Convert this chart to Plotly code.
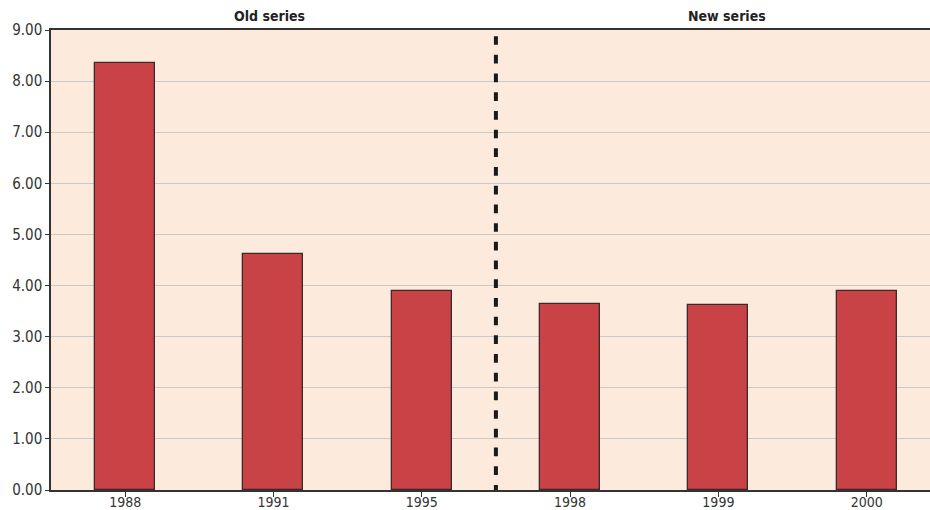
import plotly.graph_objects as go

years = ["1988", "1991", "1995", "1998", "1999", "2000"]
values = [8.35, 4.62, 3.90, 3.64, 3.62, 3.90]
y_ticks = [0, 1, 2, 3, 4, 5, 6, 7, 8, 9]
section_labels = ["Old series", "New series"]

FONT = "DejaVu Sans Condensed, Liberation Sans Narrow, Arial Narrow, sans-serif"

fig = go.Figure()
fig.add_trace(go.Bar(
    x=list(range(len(years))), y=values, width=0.405,
    marker=dict(color="#C94245", line=dict(color="#3b2a2a", width=1.3)),
))

fig.add_shape(type="line", xref="x", yref="y", x0=2.5, x1=2.5, y0=8.88, y1=0,
              line=dict(color="#1a1a1a", width=4, dash="8.7px,10px"))

fig.add_annotation(x=0.97, y=1.0, xref="x", yref="paper", yanchor="bottom", yshift=4,
                   text="<b>" + section_labels[0] + "</b>", showarrow=False,
                   font=dict(family=FONT, size=14, color="#222"))
fig.add_annotation(x=4.06, y=1.0, xref="x", yref="paper", yanchor="bottom", yshift=4,
                   text="<b>" + section_labels[1] + "</b>", showarrow=False,
                   font=dict(family=FONT, size=14, color="#222"))

fig.update_layout(
    width=930, height=510,
    margin=dict(l=51, r=0, t=30, b=20),
    paper_bgcolor="white", plot_bgcolor="#FCEBDD",
    showlegend=False, bargap=0,
    font=dict(family=FONT, size=15, color="#333"),
    xaxis=dict(range=[-0.5, 5.427], tickmode="array", tickvals=list(range(len(years))),
               ticktext=years, tickson="boundaries", ticks="outside", ticklen=5,
               tickcolor="#333", showline=True, linecolor="#333", linewidth=1.5,
               mirror=True, showgrid=False, zeroline=False, automargin=False,
               ticklabelstandoff=-7,
               tickfont=dict(family=FONT, size=14, color="#333")),
    yaxis=dict(range=[0, 9], tickmode="array", tickvals=y_ticks,
               ticktext=[f"{v:.2f}" for v in y_ticks], ticks="outside", ticklen=4,
               tickcolor="#333", showline=True, linecolor="#333", linewidth=1.5,
               showgrid=True, gridcolor="#C9C9C9", gridwidth=1, zeroline=False,
               automargin=False,
               tickfont=dict(family=FONT, size=15, color="#333")),
)

fig.write_html("out.html")
